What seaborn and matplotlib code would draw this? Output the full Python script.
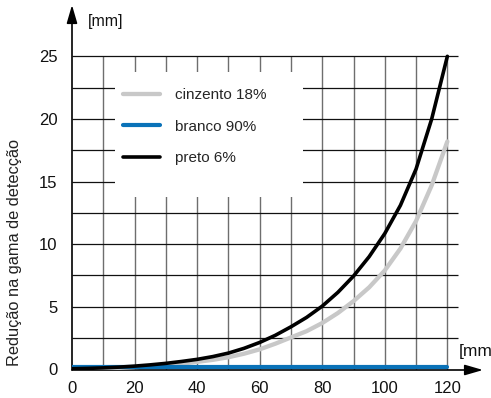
import matplotlib
matplotlib.use("Agg")
import matplotlib.pyplot as plt
import seaborn as sns
import pandas as pd
from matplotlib.patches import Rectangle

sns.set_style("white")
plt.rcParams['font.family'] = ['Liberation Sans', 'DejaVu Sans']

# data (every 5 mm)
distance = [0, 5, 10, 15, 20, 25, 30, 35, 40, 45, 50, 55, 60,
            65, 70, 75, 80, 85, 90, 95, 100, 105, 110, 115, 120]
cinzento = [0.03, 0.05, 0.08, 0.12, 0.18, 0.25, 0.35, 0.46, 0.6, 0.76, 0.97, 1.25, 1.6,
            2.05, 2.55, 3.05, 3.7, 4.5, 5.45, 6.55, 7.9, 9.65, 11.85, 14.7, 18.2]
branco = [0.18] * 25
preto = [0.05, 0.08, 0.12, 0.18, 0.26, 0.36, 0.48, 0.63, 0.8, 1.02, 1.3, 1.68, 2.15,
         2.72, 3.4, 4.15, 5.05, 6.15, 7.45, 9.0, 10.85, 13.1, 16.0, 20.0, 25.0]
labels = ["cinzento 18%", "branco 90%", "preto 6%"]
colors = ["#c8c8c8", "#0a72b8", "#000000"]
widths = [3.1, 3.0, 2.6]
xticks = [0, 20, 40, 60, 80, 100, 120]
yticks = [0, 5, 10, 15, 20, 25]

fig = plt.figure(figsize=(4.91, 3.98), dpi=100)
ax = fig.add_axes([72/491, (398-370)/398, 411/491, 365/398])
ax.set_xlim(0, 131.4)
ax.set_ylim(-0.05, 29.1)
for s in ax.spines.values():
    s.set_visible(False)

# grid
ax.vlines([10, 20, 30, 40, 50, 60, 70, 80, 90, 100, 110, 120], -0.05, 25,
          color="#6e6e6e", lw=1.0, zorder=1)
ax.hlines([2.5, 5, 7.5, 10, 12.5, 15, 17.5, 20, 22.5, 25], 0, 123.5,
          color="#111111", lw=0.9, zorder=1)
ax.add_patch(Rectangle((13.75, 13.78), 60.1, 9.97, facecolor="white",
                       edgecolor="none", zorder=2))

series = [cinzento, branco, preto]
for vals, lab, c, w in zip(series, labels, colors, widths):
    df = pd.DataFrame({"x": distance, "y": vals})
    sns.lineplot(data=df, x="x", y="y", ax=ax, color=c, lw=w, label=lab, zorder=4)

# axes arrows
ap = dict(arrowstyle="-|>,head_length=0.55,head_width=0.16", color="k", lw=1.2,
          mutation_scale=20, shrinkA=0, shrinkB=0)
ax.annotate("", xy=(0, 29.1), xytext=(0, -0.05), arrowprops=ap, annotation_clip=False, zorder=3)
ax.annotate("", xy=(131.4, -0.05), xytext=(0, -0.05), arrowprops=ap, annotation_clip=False, zorder=3)

ax.set_xticks(xticks)
ax.set_yticks(yticks)
ax.tick_params(axis="both", length=0, labelsize=12, labelcolor="#111")
ax.tick_params(axis="y", pad=10.5)
ax.tick_params(axis="x", pad=8)
ax.set_xlabel("")
ax.set_ylabel("")
fig.text(15/491, 1 - 252/398, "Redução na gama de detecção", rotation=90,
         ha="center", va="center", fontsize=11.8, color="#222")

ax.text(5.1, 27.8, "[mm]", fontsize=11.5, va="center", ha="left", color="#111")
ax.text(123.5, 1.4, "[mm]", fontsize=12.5, va="center", ha="left", color="#111", clip_on=False)

ax.legend(loc="upper left", bbox_to_anchor=(51/411, (370-88)/365), frameon=False,
          fontsize=11, handlelength=2.4, handletextpad=1.0, labelspacing=1.15,
          borderpad=0, borderaxespad=0)

fig.savefig("out.png", dpi=100)
